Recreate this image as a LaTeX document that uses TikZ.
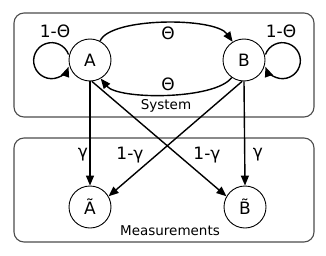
\documentclass[tikz,border=0pt]{standalone}
\usepackage{fontspec}
\setmainfont{DejaVu Sans}
\usetikzlibrary{arrows.meta}
\begin{document}
\begin{tikzpicture}[x=1pt,y=1pt,
  state/.style={circle,draw,line width=0.9pt,minimum size=42pt,inner sep=0pt,font=\fontsize{17}{20}\selectfont},
  box/.style={draw=black!70,line width=1.1pt,rounded corners=10pt},
  arr/.style={line width=1.4pt,-{Triangle[length=10pt,width=8pt]}},
  lbl/.style={font=\fontsize{17}{20}\selectfont,inner sep=0pt},
  boxtitle/.style={font=\fontsize{13.5}{16}\selectfont,inner sep=0pt}]
\useasboundingbox (0,0) rectangle (326,255);
\draw[box] (14,138) rectangle (314,242);
\draw[box] (14,13) rectangle (314,117);
\node[state] (A) at (90,195) {A};
\node[state] (B) at (244,195) {B};
\node[state] (At) at (90,48) {Ã};
\node[state] (Bt) at (245,48) {B̃};
% self loops
\draw[arr] ([yshift=5.5pt]A.west) arc[start angle=20,end angle=340,radius=18];
\draw[arr] ([yshift=5.5pt]B.east) arc[start angle=160,end angle=-160,radius=18];
\node[lbl] (la) at (55,224) {1-Θ};
\node[lbl] (lb) at (281,224) {1-Θ};
% theta arrows
\draw[arr] (A.62) .. controls (110,238) and (215,238) .. (B.122);
\draw[arr] (B.-125) .. controls (215,155) and (118,155) .. (A.-60);
\node[lbl] (t1) at (168,222) {Θ};
\node[lbl] (t2) at (168,171) {Θ};
\node[boxtitle] (sys) at (166,149) {System};
% measurement arrows
\draw[arr] (A.-90) -- (At.90);
\draw[arr] (B.-90) -- (Bt.90);
\draw[arr] (A.-85) -- (Bt.150);
\draw[arr] (B.-95) -- (At.30);
\node[lbl] (g1) at (83,100) {γ};
\node[lbl] (g2) at (258,100) {γ};
\node[lbl] (g3) at (130,100) {1-γ};
\node[lbl] (g4) at (207,100) {1-γ};
\node[boxtitle] (meas) at (170,24) {Measurements};
\end{tikzpicture}
\end{document}
